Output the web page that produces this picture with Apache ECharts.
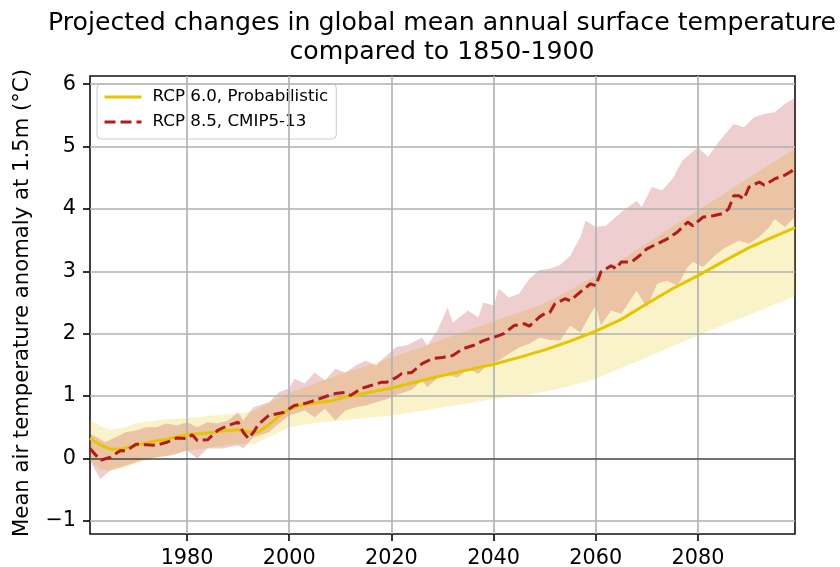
<!DOCTYPE html>
<html><head><meta charset="utf-8">
<script src="https://cdn.jsdelivr.net/npm/echarts@6/dist/echarts.min.js"></script>
<style>html,body{margin:0;padding:0;background:#fff}#c{width:840px;height:567px}</style>
</head><body><div id="c"></div>
<script>
const xTicks = [1980, 2000, 2020, 2040, 2060, 2080];
const yTicks = [-1, 0, 1, 2, 3, 4, 5, 6];

const rcp60Median = [[1961,0.32],[1963,0.22],[1965,0.15],[1967,0.15],[1970,0.21],[1973,0.27],[1976,0.31],[1980,0.38],[1984,0.41],[1987,0.44],[1990,0.46],[1992,0.43],[1994,0.43],[1996,0.54],[1998,0.68],[2000,0.79],[2002,0.85],[2005,0.89],[2008,0.92],[2011,0.99],[2015,1.05],[2020,1.13],[2025,1.23],[2030,1.33],[2035,1.42],[2040,1.51],[2045,1.62],[2050,1.74],[2055,1.88],[2060,2.04],[2065,2.23],[2070,2.48],[2075,2.72],[2080,2.93],[2085,3.16],[2090,3.38],[2095,3.56],[2099,3.70]];

const rcp60Upper = [[1961,0.62],[1963,0.52],[1965,0.46],[1968,0.50],[1970,0.57],[1975,0.62],[1980,0.65],[1985,0.69],[1990,0.72],[1993,0.76],[1995,0.85],[1998,0.97],[2000,1.05],[2005,1.20],[2010,1.35],[2015,1.48],[2020,1.62],[2025,1.76],[2030,1.91],[2035,2.05],[2040,2.20],[2045,2.34],[2050,2.49],[2055,2.70],[2060,2.93],[2065,3.18],[2070,3.45],[2075,3.72],[2080,3.98],[2085,4.24],[2090,4.50],[2095,4.76],[2099,4.97]];

const rcp60Lower = [[1961,-0.05],[1963,-0.17],[1965,-0.20],[1968,-0.15],[1970,-0.08],[1975,0.03],[1980,0.12],[1985,0.18],[1990,0.24],[1993,0.22],[1995,0.30],[1998,0.42],[2000,0.50],[2005,0.57],[2010,0.61],[2015,0.65],[2020,0.69],[2025,0.75],[2030,0.82],[2035,0.88],[2040,0.95],[2045,1.00],[2050,1.07],[2055,1.16],[2060,1.28],[2065,1.45],[2070,1.62],[2075,1.80],[2080,1.97],[2085,2.14],[2090,2.30],[2095,2.47],[2099,2.60]];

const rcp85Median = [[1961,0.16],[1963,-0.03],[1965,0.02],[1967,0.13],[1968,0.12],[1970,0.23],[1972,0.22],[1974,0.21],[1976,0.26],[1978,0.33],[1980,0.32],[1981,0.38],[1982,0.29],[1984,0.30],[1986,0.45],[1988,0.53],[1990,0.58],[1991,0.42],[1992,0.32],[1993,0.42],[1994,0.55],[1996,0.69],[1999,0.74],[2001,0.85],[2003,0.88],[2005,0.93],[2007,0.99],[2009,1.04],[2011,1.06],[2012,1.01],[2014,1.12],[2016,1.17],[2018,1.22],[2019,1.22],[2021,1.30],[2022,1.36],[2024,1.38],[2026,1.52],[2028,1.60],[2030,1.62],[2032,1.65],[2034,1.76],[2036,1.81],[2038,1.89],[2040,1.94],[2041,1.97],[2042,2.00],[2044,2.13],[2046,2.16],[2047,2.12],[2049,2.27],[2050,2.32],[2051,2.34],[2052,2.48],[2054,2.56],[2055,2.53],[2057,2.67],[2059,2.80],[2060,2.77],[2061,2.99],[2063,3.09],[2064,3.04],[2065,3.15],[2067,3.15],[2069,3.28],[2070,3.36],[2072,3.44],[2074,3.52],[2076,3.63],[2078,3.79],[2079,3.73],[2081,3.87],[2083,3.89],[2085,3.93],[2086,4.00],[2087,4.21],[2088,4.21],[2089,4.16],[2090,4.35],[2092,4.43],[2093,4.38],[2095,4.48],[2097,4.54],[2099,4.64]];

const rcp85Upper = [[1961,0.40],[1964,0.26],[1966,0.34],[1968,0.42],[1970,0.45],[1972,0.50],[1974,0.50],[1976,0.56],[1978,0.53],[1980,0.58],[1982,0.50],[1984,0.58],[1986,0.56],[1988,0.61],[1990,0.74],[1991,0.61],[1993,0.82],[1996,0.90],[1998,1.06],[2000,1.12],[2001,1.28],[2003,1.20],[2005,1.38],[2007,1.25],[2009,1.44],[2011,1.38],[2013,1.49],[2015,1.57],[2017,1.49],[2019,1.65],[2021,1.79],[2023,1.81],[2026,1.94],[2027,1.81],[2029,2.05],[2031,2.42],[2032,2.18],[2035,2.37],[2037,2.26],[2038,2.50],[2040,2.45],[2041,2.72],[2043,2.58],[2045,2.64],[2047,2.88],[2049,3.02],[2051,3.04],[2053,3.10],[2055,3.25],[2057,3.55],[2058,3.81],[2060,3.71],[2062,3.73],[2065,3.95],[2068,4.13],[2069,4.03],[2071,4.35],[2073,4.30],[2075,4.48],[2077,4.78],[2080,4.99],[2082,4.83],[2084,5.07],[2087,5.36],[2089,5.31],[2091,5.47],[2093,5.52],[2095,5.55],[2097,5.68],[2099,5.78]];

const rcp85Lower = [[1961,-0.03],[1963,-0.33],[1965,-0.19],[1967,-0.14],[1969,-0.09],[1971,-0.03],[1974,0.02],[1977,0.05],[1980,0.13],[1982,0.00],[1984,0.16],[1987,0.16],[1988,0.18],[1990,0.21],[1991,0.16],[1993,0.34],[1996,0.42],[1998,0.56],[2000,0.69],[2002,0.74],[2003,0.77],[2005,0.66],[2007,0.80],[2009,0.61],[2011,0.77],[2013,0.82],[2015,0.85],[2017,0.90],[2019,0.95],[2021,1.02],[2024,1.10],[2026,1.25],[2027,1.14],[2030,1.36],[2033,1.30],[2035,1.44],[2037,1.36],[2039,1.52],[2041,1.57],[2043,1.68],[2045,1.78],[2047,1.84],[2049,1.94],[2051,1.90],[2053,1.89],[2055,2.13],[2057,2.02],[2059,2.32],[2060,2.45],[2061,2.13],[2063,2.37],[2065,2.32],[2068,2.69],[2070,2.42],[2072,2.80],[2074,2.85],[2076,2.77],[2078,3.07],[2079,3.15],[2081,3.07],[2083,3.23],[2085,3.36],[2088,3.49],[2090,3.44],[2092,3.55],[2094,3.71],[2095,3.84],[2097,3.71],[2099,3.87]];

const FONT = 'DejaVu Sans';
const chart = echarts.init(document.getElementById('c'), null, {renderer: 'canvas'});

function band(name, upper, lower, fill, z) {
  return {
    type: 'custom', name: name, z: z, silent: true, clip: true,
    data: [upper[0]],
    encode: {x: 0, y: 1},
    renderItem: function (params, api) {
      const pts = upper.map(p => api.coord(p)).concat(lower.slice().reverse().map(p => api.coord(p)));
      return {type: 'polygon', shape: {points: pts}, style: {fill: fill}};
    }
  };
}

const gridLineData = xTicks.map(v => ({xAxis: v}))
  .concat(yTicks.filter(v => v !== 0).map(v => ({yAxis: v})))
  .concat([{yAxis: 0, lineStyle: {color: '#444', width: 1.6, type: 'solid'}}]);

chart.setOption({
  animation: false,
  backgroundColor: '#fff',
  textStyle: {fontFamily: FONT},
  grid: {left: 90, right: 45, top: 76, bottom: 33, show: true, borderColor: '#111', borderWidth: 1.6,
    backgroundColor: 'transparent', containLabel: false, outerBoundsMode: 'none'},
  graphic: [
    {type: 'text', x: 442, y: 23, z: 100, style: {text: 'Projected changes in global mean annual surface temperature', fontSize: 25.2, fontFamily: FONT, fill: '#000', align: 'center', verticalAlign: 'middle'}},
    {type: 'text', x: 442, y: 52, z: 100, style: {text: 'compared to 1850-1900', fontSize: 25.2, fontFamily: FONT, fill: '#000', align: 'center', verticalAlign: 'middle'}},
    {type: 'text', x: 22, y: 303, rotation: Math.PI / 2, z: 100, style: {text: 'Mean air temperature anomaly at 1.5m (°C)', fontSize: 21.2, fontFamily: FONT, fill: '#000', align: 'center', verticalAlign: 'middle'}}
  ],
  legend: {
    show: true, orient: 'vertical', left: 97, top: 84,
    data: ['RCP 6.0, Probabilistic', 'RCP 8.5, CMIP5-13'],
    itemWidth: 37, itemHeight: 14, itemGap: 8,
    padding: [4.5, 8, 8.5, 6],
    backgroundColor: 'rgba(255,255,255,0.8)', borderColor: '#cccccc', borderWidth: 1, borderRadius: 4,
    lineStyle: {width: 3},
    itemStyle: {opacity: 0},
    textStyle: {fontSize: 16.7, fontFamily: FONT, color: '#000', lineHeight: 17, padding: [0, 0, 0, 6]},
    selectedMode: false
  },
  xAxis: {
    type: 'value', min: 1961, max: 2099,
    axisLine: {show: false, onZero: false}, splitLine: {show: false},
    axisTick: {show: true, customValues: xTicks, length: 7, lineStyle: {color: '#000', width: 1.6}},
    axisLabel: {customValues: xTicks, fontSize: 20.75, fontFamily: FONT, color: '#000', margin: 14,
      formatter: v => String(v)}
  },
  yAxis: {
    type: 'value', min: -1.21, max: 6.13,
    axisLine: {show: false, onZero: false}, splitLine: {show: false},
    axisTick: {show: true, customValues: yTicks, length: 7, lineStyle: {color: '#000', width: 1.6}},
    axisLabel: {customValues: yTicks, fontSize: 20.75, fontFamily: FONT, color: '#000', margin: 14,
      formatter: v => String(v).replace('-', '\u2212')}
  },
  series: [
    band('RCP 6.0 range', rcp60Upper, rcp60Lower, 'rgba(230,200,0,0.21)', 1),
    band('RCP 8.5 range', rcp85Upper, rcp85Lower, 'rgba(178,34,34,0.22)', 2),
    {
      name: 'RCP 6.0, Probabilistic', type: 'line', z: 10, data: rcp60Median,
      symbol: 'none', showSymbol: false, smooth: false,
      lineStyle: {color: '#e6c500', width: 3}, itemStyle: {color: '#e6c500'},
      emphasis: {disabled: true},
      markLine: {silent: true, symbol: ['none', 'none'], label: {show: false}, animation: false,
        lineStyle: {color: '#b0b0b0', width: 1.6, type: 'solid'}, emphasis: {disabled: true},
        data: gridLineData}
    },
    {
      name: 'RCP 8.5, CMIP5-13', type: 'line', z: 11, data: rcp85Median,
      symbol: 'none', showSymbol: false, smooth: false,
      lineStyle: {color: '#b01c1c', width: 3, type: [11, 5]}, itemStyle: {color: '#b01c1c'},
      emphasis: {disabled: true}
    }
  ]
});
</script>
</body></html>
